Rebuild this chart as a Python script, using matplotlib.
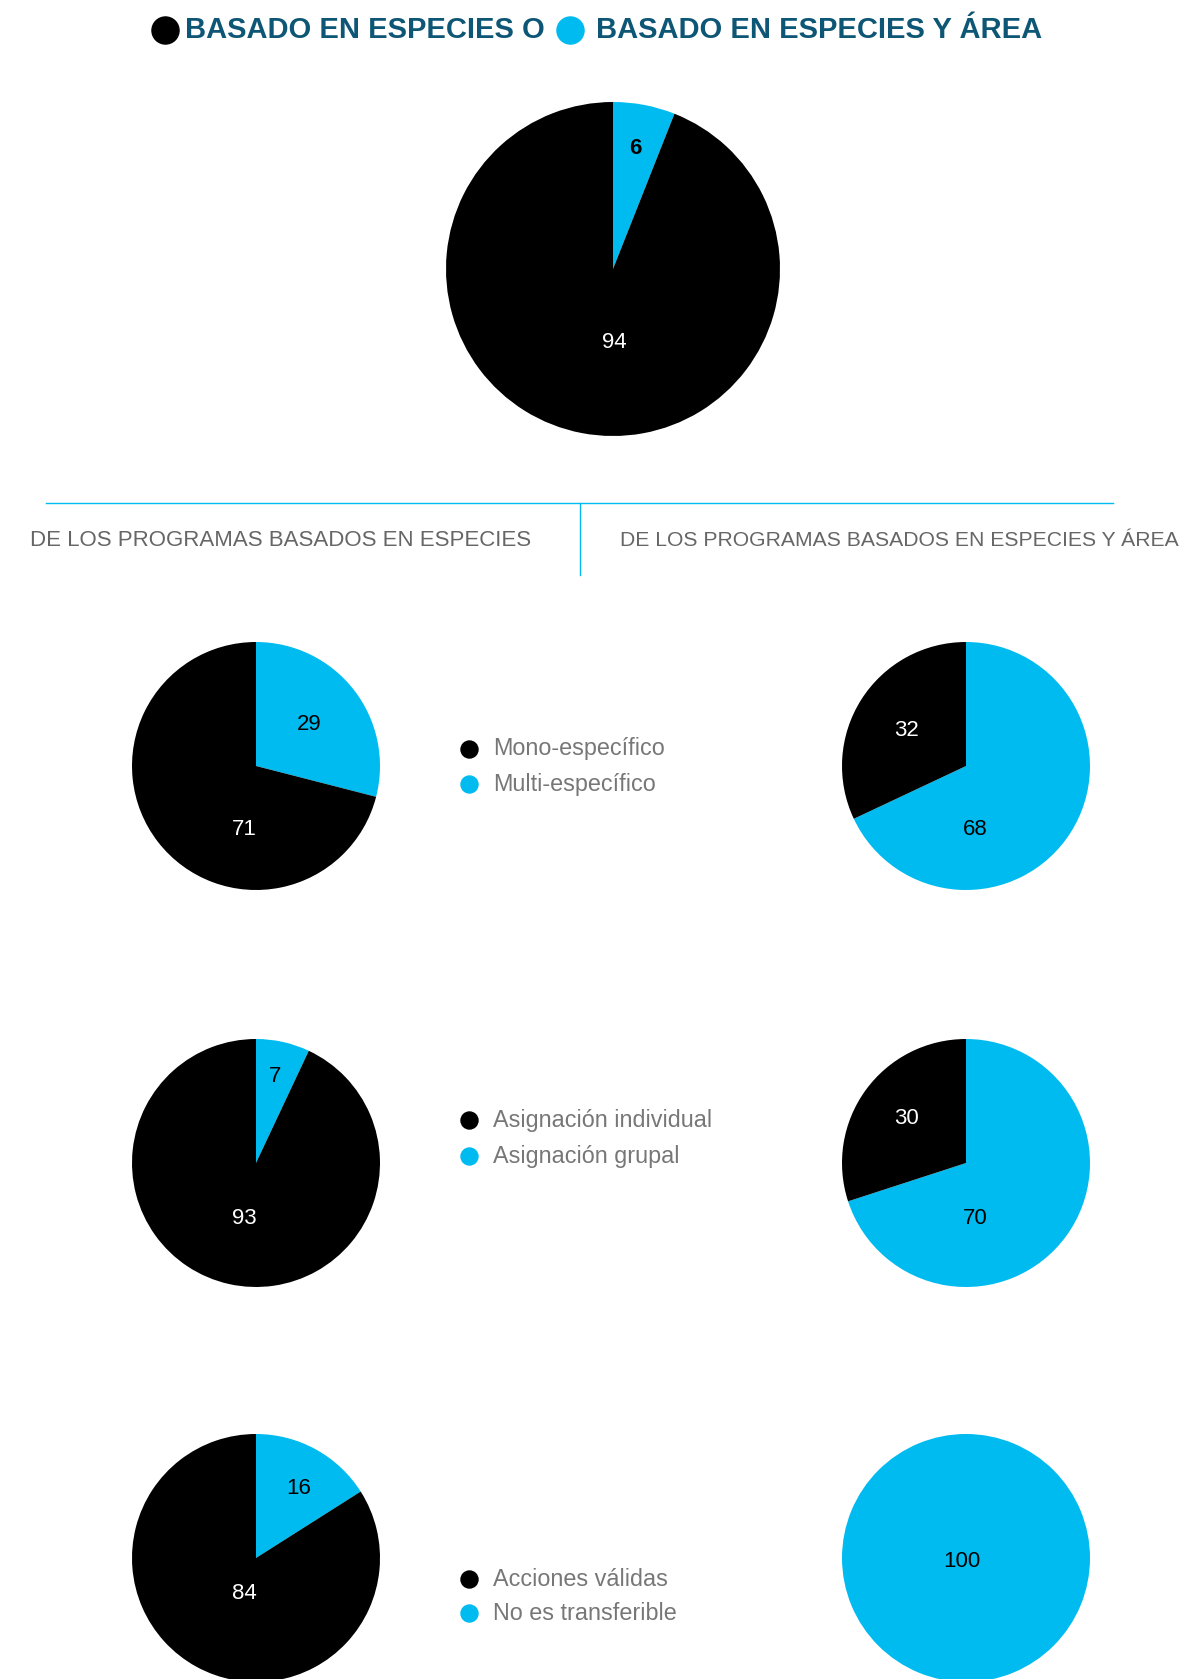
import matplotlib.pyplot as plt

plt.rcParams['font.family'] = ['Liberation Sans', 'DejaVu Sans']

BLACK = '#000000'
CYAN = '#00BBF0'
TITLE_COLOR = '#0E5675'
GRAY = '#666666'
LEGEND_GRAY = '#777777'

W, H = 1187, 1679

# data
title_left = 'BASADO EN ESPECIES O'
title_right = 'BASADO EN ESPECIES Y ÁREA'
header_left = 'DE LOS PROGRAMAS BASADOS EN ESPECIES'
header_right = 'DE LOS PROGRAMAS BASADOS EN ESPECIES Y ÁREA'

# values per pie: [cyan, black]
top_values = [6, 94]
species_values = [[29, 71], [7, 93], [16, 84]]
area_values = [[68, 32], [70, 30], [100, 0]]
legend_labels = [
    ['Mono-específico', 'Multi-específico'],
    ['Asignación individual', 'Asignación grupal'],
    ['Acciones válidas', 'No es transferible'],
]

# layout (pixels)
top_center = (613, 269)
top_radius = 167
row_y = [766, 1163, 1558]
left_x, right_x = 256, 966
small_radius = 124
legend_x = 469
legend_y = [(749, 784), (1120, 1156), (1579, 1613)]

# label offsets inside each pie, in units of the radius: [cyan, black]
top_label_pos = [(0.135, 0.72), (0.006, -0.44)]
species_label_pos = [
    [(0.43, 0.335), (-0.095, -0.515)],
    [(0.155, 0.695), (-0.095, -0.445)],
    [(0.345, 0.56), (-0.095, -0.29)],
]
area_label_pos = [
    [(0.078, -0.515), (-0.48, 0.285)],
    [(0.078, -0.445), (-0.48, 0.355)],
    [(-0.035, -0.025), None],
]

fig = plt.figure(figsize=(W / 100, H / 100), dpi=100)

# background axes in pixel coordinates for text, rules and legend dots
bg = fig.add_axes([0, 0, 1, 1])
bg.set_xlim(0, W)
bg.set_ylim(H, 0)
bg.axis('off')


def draw_pie(cx, cy, r, values, label_pos, bold_first=False):
    ax = fig.add_axes([(cx - r) / W, 1 - (cy + r) / H, 2 * r / W, 2 * r / H])
    ax.pie(values, colors=[CYAN, BLACK], startangle=90, counterclock=False,
           radius=1, wedgeprops=dict(linewidth=0))
    ax.set_xlim(-1, 1)
    ax.set_ylim(-1, 1)
    ax.set_aspect('equal')
    ax.axis('off')
    for i, (v, pos) in enumerate(zip(values, label_pos)):
        if pos is None or v == 0:
            continue
        color = BLACK if i == 0 else 'white'
        weight = 'bold' if (bold_first and i == 0) else 'normal'
        ax.text(pos[0], pos[1], str(v), color=color, fontsize=16,
                fontweight=weight, ha='center', va='center')


# title with colored dots
bg.scatter([165], [30], s=380, color=BLACK, zorder=3)
bg.text(185, 30, title_left, fontsize=21, fontweight='bold',
        color=TITLE_COLOR, ha='left', va='center')
bg.scatter([570], [30], s=380, color=CYAN, zorder=3)
bg.text(596, 30, title_right, fontsize=21, fontweight='bold',
        color=TITLE_COLOR, ha='left', va='center')

draw_pie(top_center[0], top_center[1], top_radius, top_values,
         top_label_pos, bold_first=True)

# separator rules
bg.plot([46, 1113], [503, 503], color=CYAN, linewidth=1)
bg.plot([580, 580], [503, 575], color=CYAN, linewidth=1)

bg.text(30, 541, header_left, fontsize=16, color=GRAY, ha='left', va='center')
bg.text(620, 541, header_right, fontsize=15.2, color=GRAY, ha='left', va='center')

for k in range(3):
    draw_pie(left_x, row_y[k], small_radius, species_values[k], species_label_pos[k])
    draw_pie(right_x, row_y[k], small_radius, area_values[k], area_label_pos[k])
    for color, y, lab in zip([BLACK, CYAN], legend_y[k], legend_labels[k]):
        bg.scatter([legend_x], [y], s=150, color=color, zorder=3)
        bg.text(legend_x + 24, y, lab, fontsize=16.8, color=LEGEND_GRAY,
                ha='left', va='center')

fig.savefig('out.png', dpi=100, facecolor='white')
